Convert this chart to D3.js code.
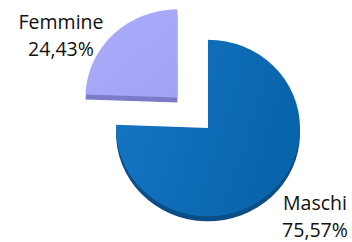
<!DOCTYPE html>
<html>
<head>
<meta charset="utf-8">
<script src="https://cdn.jsdelivr.net/npm/d3@7"></script>
<style>
  body { margin: 0; background: #fff; }
  svg text { font-family: "Open Sans", sans-serif; fill: #111; }
</style>
</head>
<body>
<svg id="chart" width="352" height="242"></svg>
<script>
// data
const labels = ["Maschi", "Femmine"];
const values = [75.57, 24.43];
const exploded = [false, true];

const svg = d3.select("#chart");
const cx = 208, cy = 128, r = 92, tilt = 0.96, depth = 5, explode = 44;

const topColors = ["url(#gMaschi)", "url(#gFemmine)"];
const sideColors = ["#0b4d86", "#7b7bc8"];

const defs = svg.append("defs");
const g1 = defs.append("linearGradient").attr("id", "gMaschi")
    .attr("x1", "0").attr("y1", "0").attr("x2", "1").attr("y2", "0.3");
g1.append("stop").attr("offset", "0%").attr("stop-color", "#1677c6");
g1.append("stop").attr("offset", "100%").attr("stop-color", "#0864ab");
const g2 = defs.append("linearGradient").attr("id", "gFemmine")
    .attr("x1", "0").attr("y1", "0").attr("x2", "1").attr("y2", "1");
g2.append("stop").attr("offset", "0%").attr("stop-color", "#acacfb");
g2.append("stop").attr("offset", "100%").attr("stop-color", "#a2a2f4");

const pie = d3.pie().sort(null).value(d => d)(values);
const arc = d3.arc().innerRadius(0).outerRadius(r);

const slices = svg.append("g").selectAll("g").data(pie).join("g")
    .attr("transform", (d, i) => {
        let dx = 0, dy = 0;
        if (exploded[i]) {
            const a = (d.startAngle + d.endAngle) / 2;
            dx = Math.sin(a) * explode;
            dy = -Math.cos(a) * explode * tilt;
        }
        return `translate(${cx + dx},${cy + dy}) scale(1,${tilt})`;
    });

// side (depth) then top face
slices.append("path")
    .attr("d", arc)
    .attr("transform", `translate(0,${depth / tilt})`)
    .attr("fill", (d, i) => sideColors[i]);
slices.append("path")
    .attr("d", arc)
    .attr("fill", (d, i) => topColors[i]);

// labels
const labelOffsets = [[107, 82], [-147, -99]];
const lab = svg.append("g").selectAll("text").data(pie).join("text")
    .attr("text-anchor", "middle")
    .attr("font-size", 19.5)
    .attr("x", (d, i) => cx + labelOffsets[i][0])
    .attr("y", (d, i) => cy + labelOffsets[i][1]);
lab.append("tspan").text((d, i) => labels[i]);
lab.append("tspan")
    .attr("x", (d, i) => cx + labelOffsets[i][0])
    .attr("dy", 27)
    .text(d => d3.format(".2f")(d.data).replace(".", ",") + "%");
</script>
</body>
</html>
